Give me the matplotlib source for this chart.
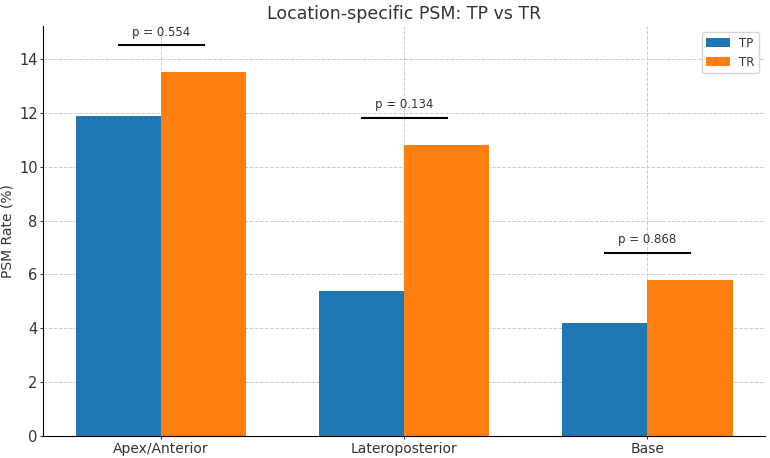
import matplotlib.pyplot as plt
import numpy as np

locations = ['Apex/Anterior', 'Lateroposterior', 'Base']
tp = [11.9, 5.4, 4.2]
tr = [13.5, 10.8, 5.8]
pvals = ['0.554', '0.134', '0.868']

plt.rcParams['text.color'] = '#333333'
plt.rcParams['axes.labelcolor'] = '#333333'

fig, ax = plt.subplots(figsize=(7.7, 4.58), dpi=100)
x = np.arange(len(locations))
w = 0.35
ax.bar(x - w/2, tp, w, label='TP', color='#1f77b4')
ax.bar(x + w/2, tr, w, label='TR', color='#ff7f0e')

for i in range(len(locations)):
    h = max(tp[i], tr[i]) + 1
    ax.plot([x[i] - w/2, x[i] + w/2], [h, h], color='black', lw=1.5)
    ax.text(x[i], h + 0.25, 'p = ' + pvals[i], ha='center', va='bottom', fontsize=8.5)

ax.set_xticks(x)
ax.set_xticklabels(locations)
ax.tick_params(axis='both', labelsize=10, length=2.5, pad=1.5, colors='#333333')
ax.tick_params(axis='y', labelsize=10.5)
ax.set_ylabel('PSM Rate (%)', fontsize=10, labelpad=3)
ax.set_title('Location-specific PSM: TP vs TR', fontsize=12.5, color='#333333', pad=5)
ax.set_ylim(0, 15.22)
ax.grid(True, linestyle='--', color='#cccccc', linewidth=0.7)
ax.set_axisbelow(True)
ax.spines['top'].set_visible(False)
ax.spines['right'].set_visible(False)
ax.legend(loc='upper right', fontsize=8.5)
plt.subplots_adjust(left=0.056, right=0.994, top=0.943, bottom=0.048)
plt.savefig('out.png')
